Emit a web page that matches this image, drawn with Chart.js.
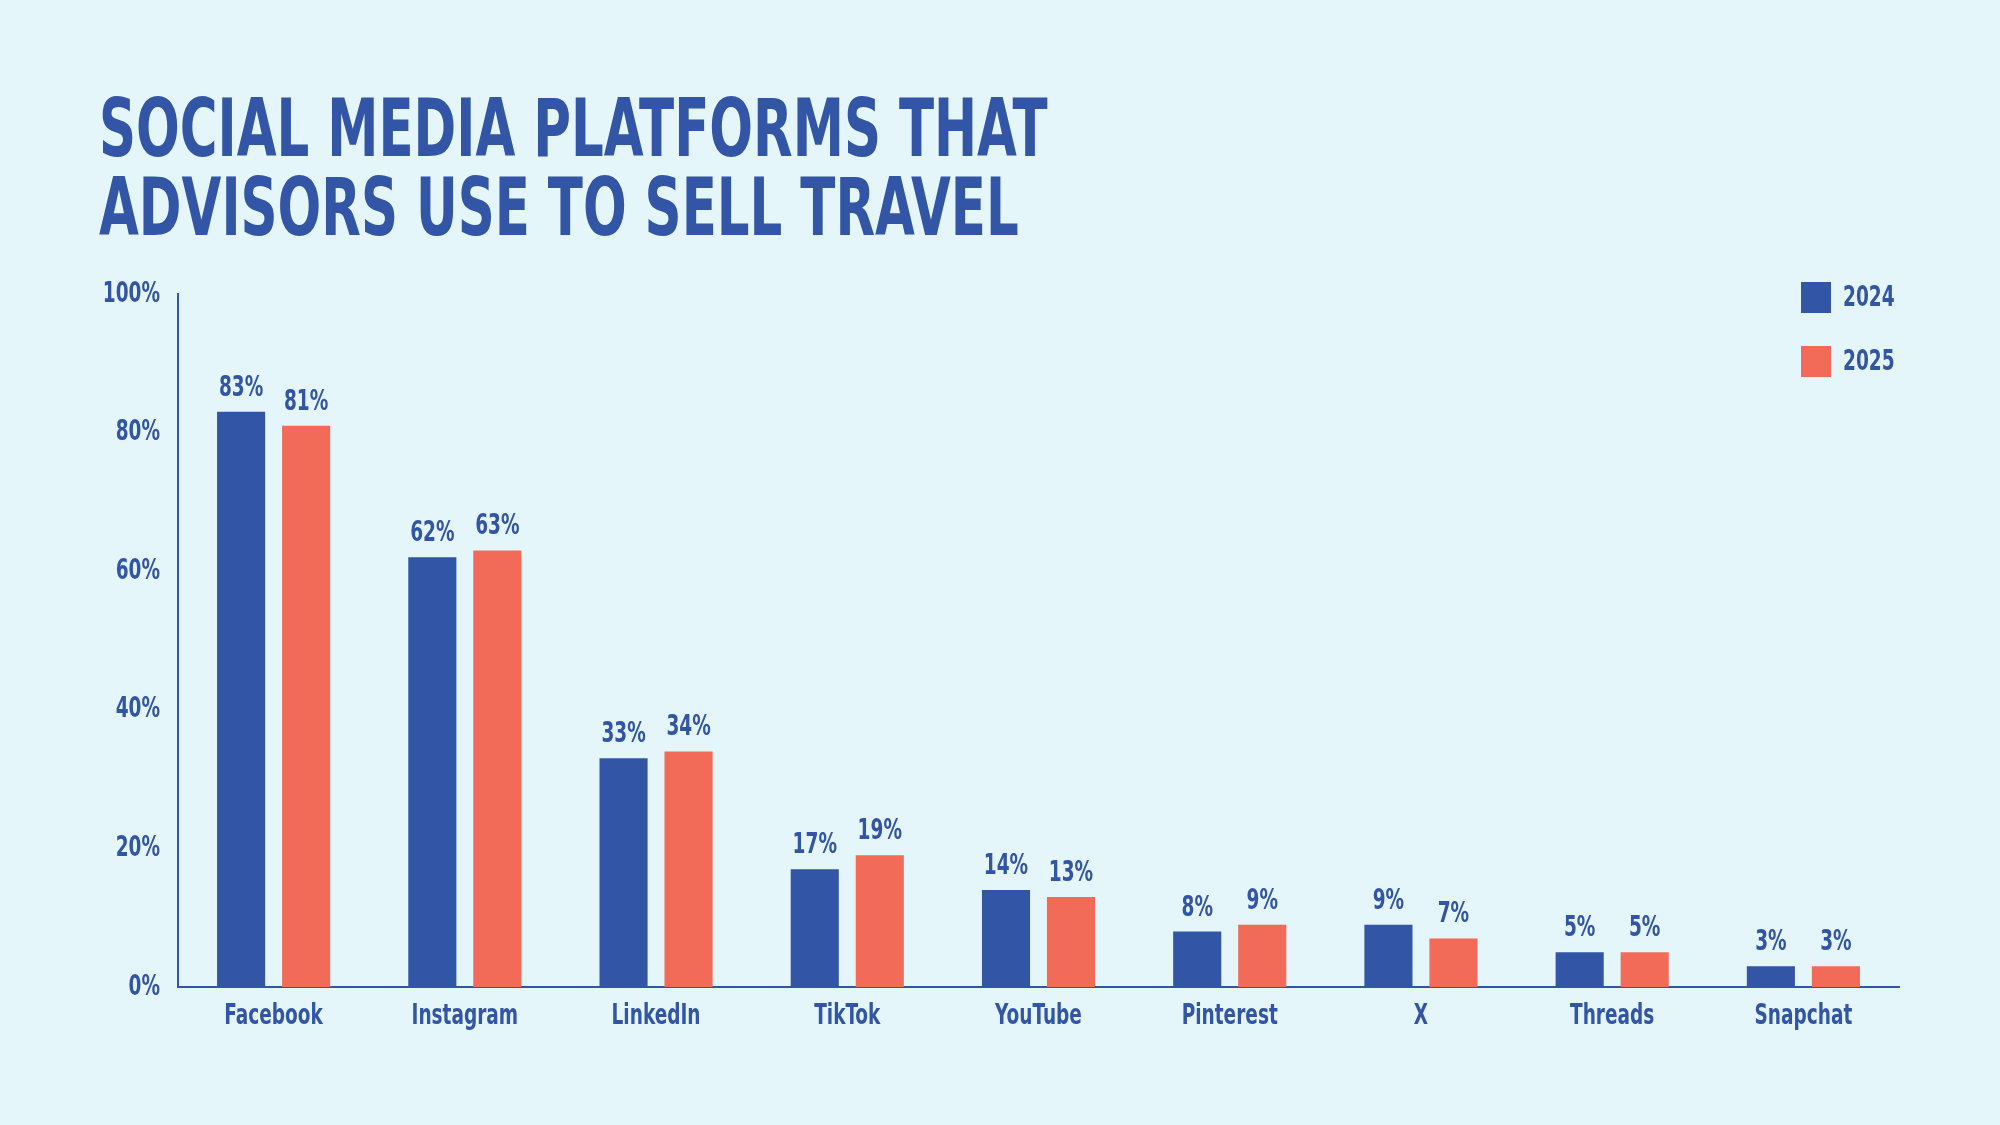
<!DOCTYPE html>
<html>
<head>
<meta charset="utf-8">
<script src="https://cdn.jsdelivr.net/npm/chart.js@4.4.1/dist/chart.umd.min.js"></script>
<style>
  html, body { margin: 0; padding: 0; background: #e4f6f9; }
  #wrap { position: relative; width: 2000px; height: 1125px; }
  h1 {
    position: absolute; left: 99px; top: 89px; margin: 0;
    font-family: "Liberation Sans Narrow", "DejaVu Sans Condensed", sans-serif;
    font-weight: bold; font-size: 80px; line-height: 79px; color: #3355a5;
    transform: scaleX(0.715); transform-origin: left top; white-space: nowrap;
  }
  canvas { position: absolute; left: 0; top: 0; }
</style>
</head>
<body>
<div id="wrap">
  <canvas id="chart" width="2000" height="1125"></canvas>
  <h1>SOCIAL MEDIA PLATFORMS THAT<br>ADVISORS USE TO SELL TRAVEL</h1>
</div>
<script>
const platforms = ['Facebook', 'Instagram', 'LinkedIn', 'TikTok', 'YouTube', 'Pinterest', 'X', 'Threads', 'Snapchat']
const values2024 = [83, 62, 33, 17, 14, 8, 9, 5, 3]
const values2025 = [81, 63, 34, 19, 13, 9, 7, 5, 3]
const yTicks = [0, 20, 40, 60, 80, 100]

const blue = '#3355a5'
const red = '#f26a58'
const fontFamily = '"Liberation Sans Narrow", "DejaVu Sans Condensed", sans-serif'
const textSqueeze = 0.71

const canvas = document.getElementById('chart')
const context = canvas.getContext('2d')

// the reference type is a tight condensed face; squeeze every label horizontally
const plainFillText = context.fillText.bind(context)
context.fillText = function(text, x, y) {
	this.save()
	this.translate(x, y)
	this.scale(textSqueeze, 1)
	plainFillText(text, 0, 0)
	this.restore()
}

// value labels over each bar
const barLabels = {
	id: 'barLabels',
	afterDatasetsDraw (chart) {
		const ctx = chart.ctx
		ctx.save()
		ctx.font = `bold 29px ${fontFamily}`
		ctx.fillStyle = blue
		ctx.textAlign = 'center'
		ctx.textBaseline = 'alphabetic'
		chart.data.datasets.forEach(function(ds, i) {
			chart.getDatasetMeta(i).data.forEach(function(bar, j) {
				ctx.fillText(ds.data[j] + '%', bar.x, bar.y - 16)
			})
		})
		ctx.restore()
	}
}

// legend stacked in the top right corner of the plot
const cornerLegend = {
	id: 'cornerLegend',
	afterDraw (chart) {
		const ctx = chart.ctx
		ctx.save()
		ctx.font = `bold 29px ${fontFamily}`
		ctx.textBaseline = 'middle'
		ctx.textAlign = 'left'
		chart.data.datasets.forEach(function(ds, i) {
			const y = 282 + i * 64
			ctx.fillStyle = ds.backgroundColor
			ctx.fillRect(1801, y, 30, 31)
			ctx.fillStyle = blue
			ctx.fillText(ds.label, 1843, y + 16)
		})
		ctx.restore()
	}
}

new Chart(canvas, {
	type: 'bar',
	data: {
		labels: platforms,
		datasets: [
			{ label: '2024', data: values2024, backgroundColor: blue },
			{ label: '2025', data: values2025, backgroundColor: red }
		]
	},
	options: {
		responsive: false,
		animation: false,
		layout: { padding: { top: 294, right: 101, bottom: 78, left: 0 } },
		categoryPercentage: 0.68,
		barPercentage: 0.74,
		plugins: {
			legend: { display: false },
			tooltip: { enabled: false }
		},
		scales: {
			x: {
				grid: { display: false },
				border: { display: true, color: blue, width: 2 },
				ticks: { color: blue, font: { family: fontFamily, size: 29, weight: 'bold' }, padding: 4 },
				afterFit (scale) { scale.height = 60 }
			},
			y: {
				min: 0,
				max: 100,
				grid: { display: false },
				border: { display: true, color: blue, width: 2 },
				afterBuildTicks (scale) { scale.ticks = yTicks.map(v => ({ value: v })) },
				ticks: {
					color: blue,
					font: { family: fontFamily, size: 29, weight: 'bold' },
					padding: 10,
					callback: v => v + '%'
				},
				afterFit (scale) { scale.width = 178 }
			}
		}
	},
	plugins: [barLabels, cornerLegend]
})
</script>
</body>
</html>
